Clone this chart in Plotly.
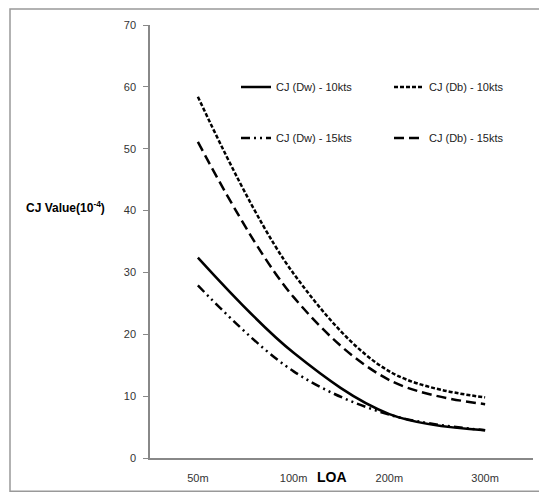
import plotly.graph_objects as go

categories = ["50m", "100m", "200m", "300m"]
dw_10 = [32.4, 17.0, 7.1, 4.5]
db_10 = [58.4, 29.8, 14.0, 9.8]
dw_15 = [27.9, 14.0, 7.0, 4.5]
db_15 = [51.1, 26.0, 12.6, 8.7]
y_ticks = [0, 10, 20, 30, 40, 50, 60, 70]

FONT = "Liberation Sans Narrow, Liberation Sans, Arial"

# page has an 8px body margin; work in page pixel coordinates and convert
OFF = 8
W, H = 547 - OFF, 493 - OFF
plot_left, plot_right, plot_top, plot_bottom = 150, 533, 25, 457.7
ml = plot_left - OFF
mr = W - (plot_right - OFF)
mt = plot_top - OFF
mb = H - (plot_bottom - OFF)
pw = W - ml - mr
ph = H - mt - mb


def px_x(v):
    return (v - OFF - ml) / pw


def px_y(v):
    return (H - mb - (v - OFF)) / ph


fig = go.Figure()
series = [
    ("CJ (Dw) - 10kts", dw_10, "solid", "legend", 236, 87),
    ("CJ (Db) - 10kts", db_10, "4px,2px", "legend2", 389, 87),
    ("CJ (Dw) - 15kts", dw_15, "9px,4px,2px,4px,2px,4px", "legend3", 236, 138),
    ("CJ (Db) - 15kts", db_15, "10px,5px", "legend4", 389, 138),
]
layout_legends = {}
for name, vals, dash, leg, lx, ly in series:
    fig.add_trace(go.Scatter(
        x=categories, y=vals, name=name, mode="lines",
        line=dict(color="black", width=2.5, dash=dash, shape="spline", smoothing=1),
        legend=leg, showlegend=True,
    ))
    layout_legends[leg] = dict(
        x=px_x(lx), y=px_y(ly), xanchor="left", yanchor="middle",
        orientation="h", bgcolor="rgba(0,0,0,0)", itemwidth=30, visible=True,
        font=dict(family=FONT, size=11, color="#222"),
    )

fig.update_layout(
    width=W, height=H, showlegend=True,
    margin=dict(l=ml, r=mr, t=mt, b=mb, autoexpand=False),
    paper_bgcolor="white", plot_bgcolor="white",
    font=dict(family=FONT, size=11, color="#333"),
    xaxis=dict(
        type="category", range=[-0.5, 3.5], showgrid=False, zeroline=False,
        showline=True, linecolor="#888", linewidth=1.5, automargin=False,
        ticks="", ticklabelstandoff=9,
        tickfont=dict(family=FONT, size=11, color="#333"),
    ),
    yaxis=dict(
        range=[0, 70], tickvals=y_ticks, showgrid=False, zeroline=False,
        showline=True, linecolor="#888", linewidth=1.5, automargin=False,
        ticks="outside", ticklen=5, tickcolor="#888", ticklabelstandoff=5,
        tickfont=dict(family=FONT, size=11, color="#333"),
    ),
    shapes=[dict(
        type="rect", xref="paper", yref="paper",
        x0=px_x(10), x1=px_x(540), y0=px_y(491), y1=px_y(9),
        line=dict(color="#999", width=1.5), fillcolor="rgba(0,0,0,0)", layer="below",
    )],
    annotations=[
        dict(text="<b>CJ Value(10<sup>-4</sup>)</b>", xref="paper", yref="paper",
             x=px_x(65), y=px_y(207), showarrow=False,
             xanchor="center", yanchor="middle",
             font=dict(family=FONT, size=12, color="black")),
        dict(text="<b>LOA</b>", xref="paper", yref="paper",
             x=px_x(332), y=px_y(477), showarrow=False,
             xanchor="center", yanchor="middle",
             font=dict(family=FONT, size=14, color="black")),
    ],
    **layout_legends,
)

fig.write_html("out.html")
